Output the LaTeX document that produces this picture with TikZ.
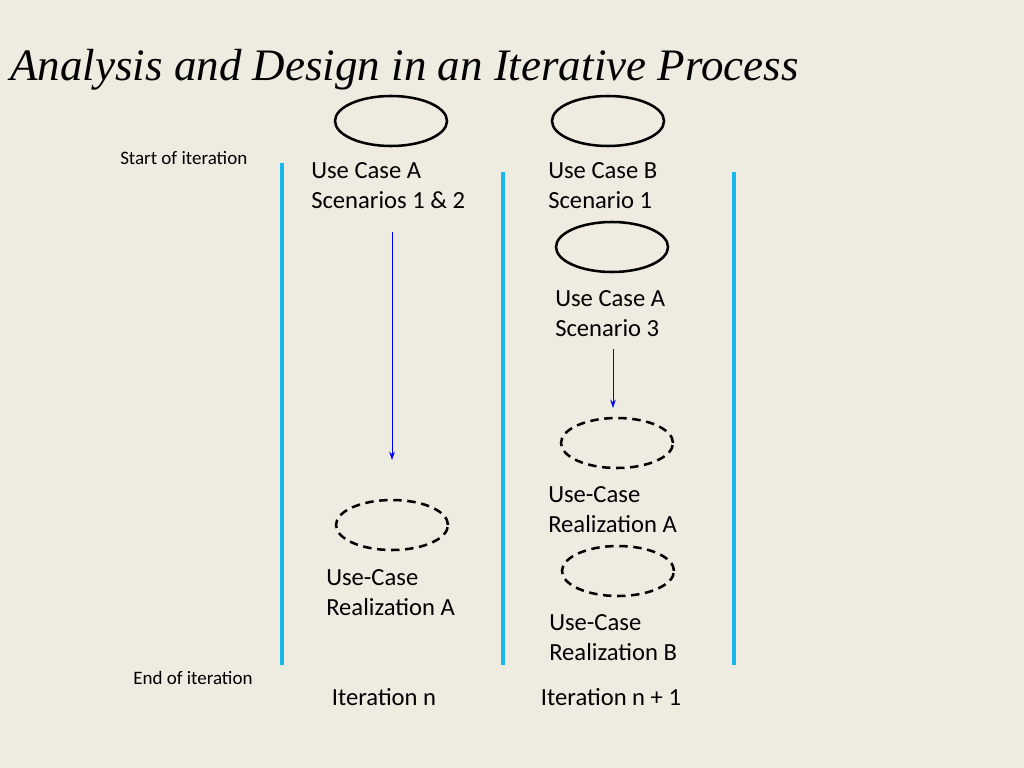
\documentclass[tikz,border=0pt]{standalone}
\usepackage{fontspec}
\setmainfont{Carlito}
\newfontfamily\titlefont{Liberation Serif}
\usetikzlibrary{arrows.meta,shapes.geometric}
\definecolor{paper}{HTML}{EEEBE1}
\definecolor{bar}{HTML}{17B8EC}
\tikzset{
  usecase/.style={draw,ellipse,line width=1.8pt,minimum width=2.8cm,minimum height=1.25cm},
  realize/.style={usecase,dash pattern=on 6pt off 4pt},
  label/.style={align=left,anchor=north west,font=\fontsize{17.5}{21.5}\selectfont,inner sep=0pt},
  small/.style={font=\fontsize{13.5}{16}\selectfont,inner sep=0pt},
  phase/.style={bar,line width=2.2pt},
  flow/.style={blue,-{Stealth[length=6pt,width=4pt]}}
}
\begin{document}
\begin{tikzpicture}[x=0.025cm,y=-0.025cm]
  \fill[paper] (0,0) rectangle (1024,768);
  \useasboundingbox (0,0) rectangle (1024,768);
  \node[anchor=west,inner sep=0pt,font=\titlefont\itshape\fontsize{32}{34}\selectfont] (title) at (10,70) {Analysis and Design in an Iterative Process};
  % iteration boundaries
  \draw[phase] (282,163) -- (282,665);
  \draw[phase] (503,172) -- (503,665);
  \draw[phase] (734,172) -- (734,665);
  \node[small,anchor=west] (start) at (120,158) {Start of iteration};
  \node[small,anchor=west] (end) at (133,678) {End of iteration};
  % iteration n
  \node[usecase] (ucA) at (391,121) {};
  \node[label] (ucAtext) at (311,162) {Use Case A\\Scenarios 1 \& 2};
  \node[realize] (rzA) at (392,525) {};
  \node[label] (rzAtext) at (326,569) {Use-Case\\Realization A};
  \coordinate (a1) at (392,232);
  \coordinate (a2) at (392,460);
  \draw[flow] (a1) -- (a2);
  \node[font=\fontsize{17.5}{20}\selectfont] (itn) at (384,697) {Iteration n};
  % iteration n+1
  \node[usecase] (ucB) at (608,121) {};
  \node[label] (ucBtext) at (548,162) {Use Case B\\Scenario 1};
  \node[usecase] (ucA3) at (612,247) {};
  \node[label] (ucA3text) at (555,290) {Use Case A\\Scenario 3};
  \node[realize] (rzA2) at (617,443) {};
  \node[label] (rzA2text) at (548,486) {Use-Case\\Realization A};
  \node[realize] (rzB) at (618,571) {};
  \node[label] (rzBtext) at (549,614) {Use-Case\\Realization B};
  \coordinate (b1) at (613,349);
  \coordinate (b2) at (613,408);
  \draw[flow] (b1) -- (b2);
  \node[font=\fontsize{17.5}{20}\selectfont] (itn1) at (611,697) {Iteration n + 1};
\end{tikzpicture}
\end{document}
